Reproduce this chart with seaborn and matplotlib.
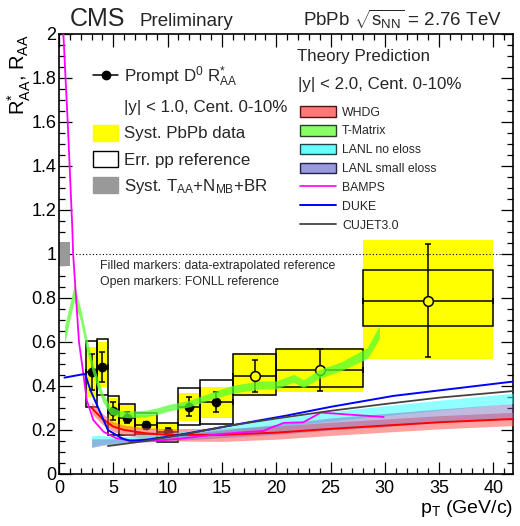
import numpy as np
import pandas as pd
import matplotlib
matplotlib.use("Agg")
import matplotlib.pyplot as plt
import seaborn as sns
from matplotlib.patches import Patch
from matplotlib.lines import Line2D
from matplotlib.ticker import MultipleLocator, FormatStrFormatter

# ---------------- data ----------------
bin_lo = [2.5, 3.5, 4.5, 5.5, 7, 9, 11, 13, 16, 20, 28]
bin_hi = [3.5, 4.5, 5.5, 7, 9, 11, 13, 16, 20, 28, 40]
pt = [3, 4, 5, 6.25, 8, 10, 12, 14.5, 18, 24, 34]
raa = [0.462, 0.488, 0.285, 0.256, 0.221, 0.192, 0.306, 0.326, 0.447, 0.473, 0.788]
stat_up = [0.082, 0.067, 0.040, 0.027, 0.017, 0.016, 0.045, 0.045, 0.071, 0.095, 0.257]
stat_dn = [0.082, 0.071, 0.040, 0.026, 0.018, 0.012, 0.041, 0.046, 0.074, 0.096, 0.255]
syst_lo = [0.351, 0.397, 0.215, 0.200, 0.200, 0.160, 0.241, 0.256, 0.356, 0.374, 0.521]
syst_hi = [0.579, 0.600, 0.344, 0.314, 0.270, 0.226, 0.370, 0.397, 0.549, 0.571, 1.064]
ppref_lo = [0.306, 0.359, 0.177, 0.177, 0.180, 0.146, 0.223, 0.226, 0.359, 0.394, 0.674]
ppref_hi = [0.605, 0.612, 0.355, 0.318, 0.276, 0.232, 0.390, 0.427, 0.545, 0.567, 0.927]
filled = [True] * 8 + [False] * 3
norm_unc = 0.053

# WHDG band
whdg_pt = [3, 4, 5, 6, 8, 10, 15, 20, 25, 30, 35, 41.8]
whdg_mid = [0.300, 0.250, 0.215, 0.200, 0.185, 0.178, 0.178, 0.188, 0.205, 0.220, 0.235, 0.250]
whdg_half = [0.025, 0.025, 0.022, 0.022, 0.025, 0.028, 0.030, 0.030, 0.030, 0.030, 0.030, 0.030]
# T-Matrix band
tmat_pt = [0.5, 1.4, 2.0, 2.5, 3.0, 3.5, 4.0, 4.7, 5.5, 6.5, 8, 9, 10, 11, 12, 14, 16, 18.5, 20,
           21.6, 22.5, 24, 26, 28.4, 29.5]
tmat_mid = [0.630, 0.825, 0.720, 0.600, 0.500, 0.420, 0.350, 0.290, 0.275, 0.270, 0.275, 0.285,
            0.300, 0.310, 0.320, 0.355, 0.385, 0.405, 0.405, 0.435, 0.410, 0.455, 0.490, 0.550, 0.645]
tmat_half = [0.040, 0.035, 0.030, 0.030, 0.025, 0.025, 0.020, 0.018, 0.015, 0.015, 0.015, 0.015,
             0.015, 0.015, 0.015, 0.015, 0.018, 0.018, 0.018, 0.018, 0.018, 0.020, 0.020, 0.025, 0.030]
# LANL bands
lanl_pt = [3, 4, 5, 6, 8, 10, 15, 20, 25, 30, 35, 41.8]
lanl0_lo = [0.125, 0.135, 0.140, 0.145, 0.150, 0.160, 0.190, 0.215, 0.240, 0.265, 0.290, 0.320]
lanl0_hi = [0.175, 0.175, 0.170, 0.170, 0.175, 0.185, 0.215, 0.250, 0.283, 0.310, 0.335, 0.367]
lanls_lo = [0.120, 0.130, 0.135, 0.140, 0.145, 0.150, 0.165, 0.180, 0.200, 0.215, 0.235, 0.255]
lanls_hi = [0.160, 0.160, 0.160, 0.160, 0.165, 0.175, 0.200, 0.225, 0.255, 0.275, 0.295, 0.320]
# lines
bamps_pt = [0.4, 0.8, 1.23, 1.3, 1.57, 1.84, 2.2, 2.55, 3.16, 4.1, 5.3, 6.85, 9.0, 11.1, 14.5,
            17.6, 18.8, 19.4, 20.7, 22.5, 24.1, 29.9]
bamps_raa = [2.0, 1.6, 1.11, 1.0, 0.8, 0.6, 0.47, 0.336, 0.245, 0.192, 0.162, 0.150, 0.152, 0.160,
             0.180, 0.192, 0.195, 0.208, 0.232, 0.235, 0.279, 0.259]
duke_pt = [0.5, 2.4, 2.9, 4.5, 5.8, 6.5, 8, 11, 16, 21, 25, 30.8, 41.8]
duke_raa = [0.438, 0.455, 0.380, 0.200, 0.162, 0.151, 0.155, 0.177, 0.222, 0.266, 0.305, 0.355, 0.420]
cujet_pt = [4.5, 8, 12, 16, 20, 25, 30, 35, 41.8]
cujet_raa = [0.127, 0.150, 0.185, 0.222, 0.252, 0.287, 0.318, 0.347, 0.377]

# ---------------- style ----------------
sns.set_theme(style="ticks")
plt.rcParams["font.family"] = ["Liberation Sans", "DejaVu Sans"]
plt.rcParams["mathtext.fontset"] = "custom"
plt.rcParams["mathtext.rm"] = "Liberation Sans"
plt.rcParams["mathtext.it"] = "Liberation Sans:italic"
plt.rcParams["mathtext.bf"] = "Liberation Sans:bold"
plt.rcParams["mathtext.sf"] = "Liberation Sans"
plt.rcParams["mathtext.default"] = "regular"

fig = plt.figure(figsize=(5.2, 5.26), dpi=100)
ax = fig.add_axes([0.1135, 0.0989, 0.873, 0.8365])

bin_lo_a = np.array(bin_lo); bin_hi_a = np.array(bin_hi)
widths = bin_hi_a - bin_lo_a
centers = (bin_lo_a + bin_hi_a) / 2

# yellow PbPb systematics
ax.bar(centers, np.array(syst_hi) - np.array(syst_lo), bottom=syst_lo, width=widths,
       color="#ffff00", edgecolor="none", zorder=1)
# pp reference boxes
ax.bar(centers, np.array(ppref_hi) - np.array(ppref_lo), bottom=ppref_lo, width=widths,
       fill=False, edgecolor="black", linewidth=1.1, zorder=2)
# normalisation box
ax.bar([0.5], [2 * norm_unc], bottom=[1 - norm_unc], width=1.0, color="#999999",
       edgecolor="none", zorder=2)
ax.axhline(1.0, color="black", ls=(0, (1, 2)), lw=0.8, zorder=1.5)

# data points
pt_a = np.array(pt); raa_a = np.array(raa)
xerr = [pt_a - bin_lo_a, bin_hi_a - pt_a]
yerr = [np.array(stat_dn), np.array(stat_up)]
ax.errorbar(pt_a, raa_a, xerr=xerr, yerr=yerr, fmt="none", ecolor="black",
            elinewidth=1.1, capsize=2.5, capthick=1.1, zorder=3)
fmask = np.array(filled)
ax.plot(pt_a[fmask], raa_a[fmask], "o", color="black", markersize=6, zorder=3.5)
ax.plot(pt_a[~fmask], raa_a[~fmask], "o", markerfacecolor="#ffff00", markeredgecolor="black",
        markeredgewidth=1.1, markersize=7, zorder=3.5)

# theory bands
wm = np.array(whdg_mid); wh = np.array(whdg_half)
ax.fill_between(whdg_pt, wm - wh, wm + wh, color="#ff5555", alpha=0.55, lw=0, zorder=4)
tm = np.array(tmat_mid); th = np.array(tmat_half)
ax.fill_between(tmat_pt, tm - th, tm + th, color="#55ff33", alpha=0.75, lw=0, zorder=4.1)
ax.fill_between(lanl_pt, lanl0_lo, lanl0_hi, color="#33ffff", alpha=0.55, lw=0, zorder=4.2)
ax.fill_between(lanl_pt, lanls_lo, lanls_hi, color="#7766bb", alpha=0.45, lw=0, zorder=4.3)

df_whdg = pd.DataFrame({"pt": whdg_pt, "raa": whdg_mid})
sns.lineplot(data=df_whdg, x="pt", y="raa", ax=ax, color="#ff0000", lw=1.4,
             estimator=None, sort=False, zorder=4.5)
df_bamps = pd.DataFrame({"pt": bamps_pt, "raa": bamps_raa})
sns.lineplot(data=df_bamps, x="pt", y="raa", ax=ax, color="#ff00ff", lw=1.3,
             estimator=None, sort=False, zorder=5)
df_duke = pd.DataFrame({"pt": duke_pt, "raa": duke_raa})
sns.lineplot(data=df_duke, x="pt", y="raa", ax=ax, color="#0000ff", lw=1.4,
             estimator=None, sort=False, zorder=5)
df_cujet = pd.DataFrame({"pt": cujet_pt, "raa": cujet_raa})
sns.lineplot(data=df_cujet, x="pt", y="raa", ax=ax, color="#444444", lw=1.3,
             estimator=None, sort=False, zorder=5)

# ---------------- axes ----------------
ax.set_xlim(0, 41.8)
ax.set_ylim(0, 2)
ax.xaxis.set_major_locator(MultipleLocator(5))
ax.xaxis.set_minor_locator(MultipleLocator(1))
ax.yaxis.set_major_locator(MultipleLocator(0.2))
ax.yaxis.set_minor_locator(MultipleLocator(0.05))
ax.xaxis.set_major_formatter(FormatStrFormatter("%g"))
ax.yaxis.set_major_formatter(FormatStrFormatter("%g"))
ax.tick_params(which="both", direction="in", top=True, right=True, color="black",
               width=0.9, labelsize=13, labelcolor="black")
ax.tick_params(which="major", length=9)
ax.tick_params(which="minor", length=4.5)
ax.tick_params(axis="y", pad=2)
ax.tick_params(axis="x", pad=4)
for s in ax.spines.values():
    s.set_color("black")
    s.set_linewidth(1.2)
ax.set_xlabel(r"p$_{T}$ (GeV/c)", fontsize=14, loc="right", labelpad=1, color="black")
ax.set_ylabel(r"R$^{*}_{AA}$, R$_{AA}$", fontsize=14.5, loc="top", labelpad=-1, color="black")

# header texts
fig.text(0.135, 0.9506, "CMS", fontsize=18, ha="left", va="baseline")
fig.text(0.268, 0.9506, "Preliminary", fontsize=13.5, ha="left", va="baseline")
fig.text(0.583, 0.9506, r"PbPb $\sqrt{s_{NN}}$ = 2.76 TeV", fontsize=13.5, ha="left",
         va="baseline")

# left legend
h_left = [
    Line2D([], [], color="black", marker="o", markersize=6, lw=1.1),
    Patch(facecolor="none", edgecolor="none"),
    Patch(facecolor="#ffff00", edgecolor="#ffff00"),
    Patch(facecolor="white", edgecolor="black", linewidth=1.0),
    Patch(facecolor="#999999", edgecolor="#999999"),
]
l_left = [r"Prompt D$^{0}$ R$^{*}_{AA}$", "|y| < 1.0, Cent. 0-10%", "Syst. PbPb data",
          "Err. pp reference", r"Syst. T$_{AA}$+N$_{MB}$+BR"]
leg1 = ax.legend(h_left, l_left, loc="upper left", bbox_to_anchor=(0.075, 0.93),
                 frameon=False, fontsize=12.2, handlelength=1.5, handleheight=1.05,
                 handletextpad=0.35, labelspacing=0.56, borderpad=0, borderaxespad=0)
ax.add_artist(leg1)

# right legend
ax.text(0.525, 0.948, "Theory Prediction", transform=ax.transAxes, fontsize=12.2,
        ha="left", va="center")
ax.text(0.527, 0.886, "|y| < 2.0, Cent. 0-10%", transform=ax.transAxes, fontsize=12.2,
        ha="left", va="center")
h_right = [
    Patch(facecolor="#ff7777", edgecolor="#551111", linewidth=1.0),
    Patch(facecolor="#88ff66", edgecolor="#224422", linewidth=1.0),
    Patch(facecolor="#66ffff", edgecolor="#224444", linewidth=1.0),
    Patch(facecolor="#9999dd", edgecolor="#222244", linewidth=1.0),
    Line2D([], [], color="#ff00ff", lw=1.2),
    Line2D([], [], color="#0000ff", lw=1.4),
    Line2D([], [], color="#444444", lw=1.3),
]
l_right = ["WHDG", "T-Matrix", "LANL no eloss", "LANL small eloss", "BAMPS", "DUKE", "CUJET3.0"]
leg2 = ax.legend(h_right, l_right, loc="upper left", bbox_to_anchor=(0.531, 0.836),
                 frameon=False, fontsize=8.8, handlelength=2.9, handleheight=0.95,
                 handletextpad=0.55, labelspacing=0.52, borderpad=0, borderaxespad=0)

# notes
ax.text(0.09, 0.473, "Filled markers: data-extrapolated reference", transform=ax.transAxes,
        fontsize=8.8, ha="left", va="center")
ax.text(0.09, 0.437, "Open markers: FONLL reference", transform=ax.transAxes,
        fontsize=8.8, ha="left", va="center")

fig.savefig("out.png", dpi=100, facecolor="white")
